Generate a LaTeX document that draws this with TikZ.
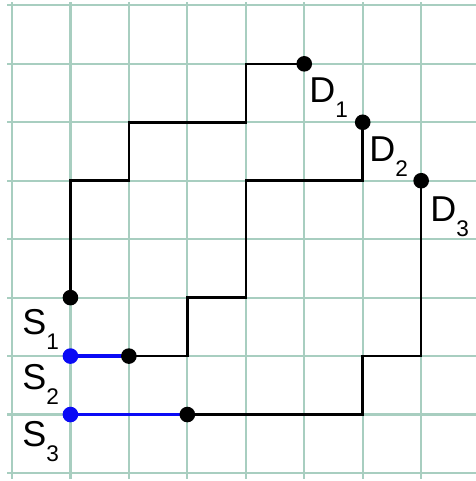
\documentclass[tikz,border=0pt]{standalone}
\usepackage{fontspec}
\setmainfont{Liberation Sans}
\pgfdeclarelayer{bg}
\pgfsetlayers{bg,main}
\definecolor{gridgreen}{RGB}{168,206,192}
\definecolor{pathblue}{RGB}{10,10,245}
% letter with a lowered index digit
\newcommand\lettersub[2]{#1\raisebox{-7.2pt}{\fontsize{11}{13}\selectfont #2}}
\tikzset{
  gridline/.style={draw=gridgreen, line width=1.1pt},
  route/.style={draw=black, line width=1.2pt},
  shortcut/.style={draw=pathblue, line width=1.8pt},
  dot/.style={circle, fill=black, inner sep=0pt, minimum size=7.6pt},
  bluedot/.style={circle, fill=pathblue, inner sep=0pt, minimum size=7.6pt},
  lbl/.style={inner sep=0pt, anchor=base west, font=\fontsize{17.5}{20}\selectfont}
}
\begin{document}
\begin{tikzpicture}[x=1cm, y=1cm]
  \useasboundingbox (-0.205,-0.137) rectangle (7.938,8.092);

  % terminals
  \node[dot] (s1) at (1,3) {};
  \node[bluedot] (s2) at (1,2) {};
  \node[bluedot] (s3) at (1,1) {};
  \node[dot] (t2) at (2,2) {};
  \node[dot] (t3) at (3,1) {};
  \node[dot] (d1) at (5,7) {};
  \node[dot] (d2) at (6,6) {};
  \node[dot] (d3) at (7,5) {};

  % labels
  \node[lbl] (ls1) at (0.171,2.361) {\lettersub{S}{1}};
  \node[lbl] (ls2) at (0.171,1.420) {\lettersub{S}{2}};
  \node[lbl] (ls3) at (0.171,0.445) {\lettersub{S}{3}};
  \node[lbl] (ld1) at (5.080,6.330) {\lettersub{D}{1}};
  \node[lbl] (ld2) at (6.108,5.321) {\lettersub{D}{2}};
  \node[lbl] (ld3) at (7.151,4.294) {\lettersub{D}{3}};

  \begin{pgfonlayer}{bg}
    % squared paper
    \foreach \i in {0,...,7}
      \draw[gridline] (\i,-0.1) -- (\i,8.05);
    \foreach \j in {0,...,8}
      \draw[gridline] (-0.085,\j) -- (7.938,\j);

    % staircase routes
    \draw[route] (s1.center) -- (1,5) -- (2,5) -- (2,6) -- (4,6) -- (4,7) -- (d1.center);
    \draw[route] (t2.center) -- (3,2) -- (3,3) -- (4,3) -- (4,5) -- (6,5) -- (d2.center);
    \draw[route] (t3.center) -- (6,1) -- (6,2) -- (7,2) -- (d3.center);

    % blue feeder segments
    \draw[shortcut] (s2.center) -- (t2.center);
    \draw[shortcut] (s3.center) -- (t3.center);
  \end{pgfonlayer}
\end{tikzpicture}
\end{document}
